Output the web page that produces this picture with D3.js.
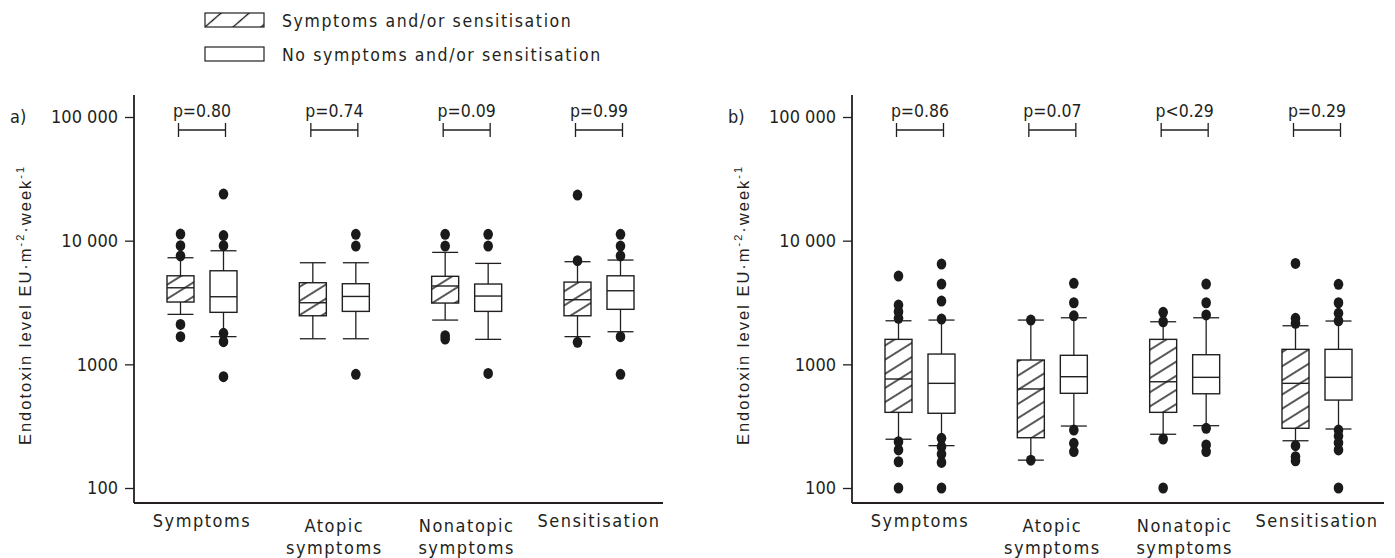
<!DOCTYPE html>
<html>
<head>
<meta charset="utf-8">
<script src="https://cdn.jsdelivr.net/npm/d3@7"></script>
<style>
	body { margin: 0; background: #fff; }
	svg text { fill: #231f20; }
	.cond { font-family: "DejaVu Sans Condensed", "DejaVu Sans", sans-serif; font-stretch: condensed; }
	.ytitle { font-family: "Liberation Sans", Arial, sans-serif; }
</style>
</head>
<body>
<svg id="chart"></svg>
<script>
// categories and groups
const categories = ["Symptoms", "Atopic symptoms", "Nonatopic symptoms", "Sensitisation"];
const categoryLines = [["Symptoms"], ["Atopic", "symptoms"], ["Nonatopic", "symptoms"], ["Sensitisation"]];
const groups = ["Symptoms and/or sensitisation", "No symptoms and/or sensitisation"];

// tick values of the log axis
const yTicks = [100, 1000, 10000, 100000];
const yTickLabels = ["100", "1000", "10 000", "100 000"];

// boxes: [lower whisker, q1, median, q3, upper whisker]  (EU·m-2·week-1)
// panel a
const aBoxesWith = [
	[2535, 3190, 4160, 5200, 7276],
	[1610, 2470, 3148, 4570, 6630],
	[2280, 3130, 4300, 5150, 8040],
	[1675, 2470, 3330, 4625, 6760]
];
const aBoxesWithout = [
	[1675, 2633, 3520, 5710, 8285],
	[1610, 2680, 3540, 4485, 6630],
	[1592, 2680, 3566, 4460, 6550],
	[1835, 2785, 3936, 5200, 6970]
];
const aOutliersWith = [
	[11300, 9100, 7530, 2104, 1675],
	[],
	[11250, 9040, 1705, 1600],
	[23350, 6890, 1506]
];
const aOutliersWithout = [
	[23800, 11000, 9100, 1780, 1526, 794],
	[11250, 9040, 830],
	[11250, 9040, 845],
	[11250, 9040, 7530, 1675, 830]
];
const aPValues = ["p=0.80", "p=0.74", "p=0.09", "p=0.99"];

// panel b
const bBoxesWith = [
	[248, 409, 761, 1592, 2250],
	[168, 255, 632, 1084, 2280],
	[272, 409, 723, 1592, 2210],
	[241, 304, 702, 1322, 2051]
];
const bBoxesWithout = [
	[220, 402, 702, 1211, 2280],
	[317, 583, 794, 1183, 2380],
	[319, 578, 785, 1196, 2380],
	[300, 514, 785, 1322, 2240]
];
const bOutliersWith = [
	[5176, 3016, 2663, 2354, 237, 203, 163, 100],
	[2280, 168],
	[2633, 2210, 249, 100],
	[6550, 2354, 2145, 220, 179, 166]
];
const bOutliersWithout = [
	[6470, 4460, 3250, 2325, 252, 216, 188, 161, 100],
	[4520, 3148, 2470, 294, 230, 197],
	[4460, 3148, 2510, 304, 223, 197],
	[4440, 3148, 2585, 2250, 294, 263, 232, 203, 100]
];
const bPValues = ["p=0.86", "p=0.07", "p<0.29", "p=0.29"];

const width = 1395, height = 558;
const ink = "#231f20";

let svg = d3.select("#chart")
	.attr("width", width)
	.attr("height", height);

let defs = svg.append("defs");

// hatch used inside the boxes
defs.append("pattern")
	.attr("id", "hatch")
	.attr("patternUnits", "userSpaceOnUse")
	.attr("width", 12)
	.attr("height", 12)
	.attr("patternTransform", "rotate(-32)")
	.append("path")
	.attr("d", "M-2,6H14")
	.attr("stroke", "#111")
	.attr("stroke-width", 1.4);

// hatch of the legend swatch (steeper, wider)
defs.append("pattern")
	.attr("id", "hatch-legend")
	.attr("patternUnits", "userSpaceOnUse")
	.attr("width", 20)
	.attr("height", 18.4)
	.attr("patternTransform", "translate(205,27) rotate(-41) translate(0,-9.2)")
	.append("path")
	.attr("d", "M-2,9.2H22")
	.attr("stroke", "#111")
	.attr("stroke-width", 1.3);

// legend
let legend = svg.append("g").attr("class", "legend");
groups.forEach((name, i) => {
	let gy = 13 + i * 34;
	legend.append("rect")
		.attr("x", 205)
		.attr("y", gy)
		.attr("width", 59)
		.attr("height", 14)
		.attr("fill", i === 0 ? "url(#hatch-legend)" : "#fff")
		.attr("stroke", ink)
		.attr("stroke-width", 1.2);
	legend.append("text")
		.attr("class", "cond")
		.attr("x", 282)
		.attr("y", gy + 14)
		.attr("font-size", "17.5px")
		.attr("letter-spacing", "1.6px")
		.text(name);
});

const panels = [
	{ tag: "a)", left: 134, right: 663, boxes: [aBoxesWith, aBoxesWithout], outliers: [aOutliersWith, aOutliersWithout], p: aPValues },
	{ tag: "b)", left: 852, right: 1384, boxes: [bBoxesWith, bBoxesWithout], outliers: [bOutliersWith, bOutliersWithout], p: bPValues }
];

const plotTop = 95, plotBottom = 503;
let y = d3.scaleLog()
	.domain([100, 100000])
	.range([488, 117]);

function drawPanel(panel) {
	let g = svg.append("g");

	let x = d3.scalePoint()
		.domain(categories)
		.range([panel.left + 68, panel.left + 465]);
	const offset = 21.5, boxW = 27, capW = 26;

	// y axis
	let axis = g.append("g")
		.attr("transform", "translate(" + panel.left + ",0)")
		.call(d3.axisLeft(y)
			.tickValues(yTicks)
			.tickFormat((d, i) => yTickLabels[i])
			.tickSize(9)
			.tickPadding(7));
	axis.select(".domain").remove();
	axis.selectAll(".tick line").attr("stroke", ink).attr("stroke-width", 1.3);
	axis.selectAll(".tick text")
		.attr("class", "cond")
		.attr("font-size", "18px")
		.attr("fill", ink);

	g.append("line")
		.attr("x1", panel.left).attr("x2", panel.left)
		.attr("y1", plotTop).attr("y2", plotBottom)
		.attr("stroke", ink).attr("stroke-width", 1.8);
	g.append("line")
		.attr("x1", panel.left).attr("x2", panel.right)
		.attr("y1", plotBottom).attr("y2", plotBottom)
		.attr("stroke", ink).attr("stroke-width", 1.8);

	g.append("text")
		.attr("class", "cond")
		.attr("x", panel.left - 124)
		.attr("y", y(100000) + 6)
		.attr("font-size", "18px")
		.text(panel.tag);

	// y title
	let title = g.append("text")
		.attr("class", "ytitle")
		.attr("transform", "translate(" + (panel.left - 103) + "," + ((plotTop + plotBottom) / 2 + 6) + ") rotate(-90)")
		.attr("text-anchor", "middle")
		.attr("font-size", "16.5px")
		.attr("letter-spacing", "2px")
		.attr("fill", "#333");
	title.append("tspan").text("Endotoxin level EU·m");
	title.append("tspan").attr("dy", -7).attr("font-size", "11px").text("-2");
	title.append("tspan").attr("dy", 7).text("·week");
	title.append("tspan").attr("dy", -7).attr("font-size", "11px").text("-1");

	// category labels
	categories.forEach((cat, i) => {
		let lines = categoryLines[i];
		let t = g.append("text")
			.attr("class", "cond")
			.attr("text-anchor", "middle")
			.attr("font-size", "18px")
			.attr("letter-spacing", "1.5px");
		lines.forEach((line, k) => {
			t.append("tspan")
				.attr("x", x(cat))
				.attr("y", (lines.length > 1 ? 532 : 527) + k * 22)
				.text(line);
		});
	});

	// p-value brackets
	categories.forEach((cat, i) => {
		let cx = x(cat);
		g.append("path")
			.attr("d", "M" + (cx - 23.5) + ",123V137M" + (cx - 23.5) + ",130H" + (cx + 23.5) + "M" + (cx + 23.5) + ",123V137")
			.attr("fill", "none")
			.attr("stroke", ink)
			.attr("stroke-width", 1.3);
		g.append("text")
			.attr("class", "cond")
			.attr("x", cx)
			.attr("y", 117)
			.attr("text-anchor", "middle")
			.attr("font-size", "17.5px")
			.text(panel.p[i]);
	});

	// boxes
	panel.boxes.forEach((set, j) => {
		set.forEach((b, i) => {
			let cx = x(categories[i]) + (j === 0 ? -offset : offset);
			let bx = g.append("g");
			bx.append("line")
				.attr("x1", cx).attr("x2", cx)
				.attr("y1", y(b[0])).attr("y2", y(b[4]))
				.attr("stroke", ink).attr("stroke-width", 1.3);
			[b[0], b[4]].forEach(v => {
				bx.append("line")
					.attr("x1", cx - capW / 2).attr("x2", cx + capW / 2)
					.attr("y1", y(v)).attr("y2", y(v))
					.attr("stroke", ink).attr("stroke-width", 1.3);
			});
			bx.append("rect")
				.attr("x", cx - boxW / 2)
				.attr("y", y(b[3]))
				.attr("width", boxW)
				.attr("height", y(b[1]) - y(b[3]))
				.attr("fill", "#fff")
				.attr("stroke", ink)
				.attr("stroke-width", 1.4);
			if (j === 0) {
				bx.append("rect")
					.attr("x", cx - boxW / 2)
					.attr("y", y(b[3]))
					.attr("width", boxW)
					.attr("height", y(b[1]) - y(b[3]))
					.attr("fill", "url(#hatch)");
			}
			bx.append("line")
				.attr("x1", cx - boxW / 2).attr("x2", cx + boxW / 2)
				.attr("y1", y(b[2])).attr("y2", y(b[2]))
				.attr("stroke", ink).attr("stroke-width", 1.4);

			bx.selectAll("ellipse")
				.data(panel.outliers[j][i])
				.enter()
				.append("ellipse")
				.attr("cx", cx)
				.attr("cy", d => y(d))
				.attr("rx", 4.8)
				.attr("ry", 5.5)
				.attr("fill", "#1a1a1a");
		});
	});
}

panels.forEach(drawPanel);
</script>
</body>
</html>
